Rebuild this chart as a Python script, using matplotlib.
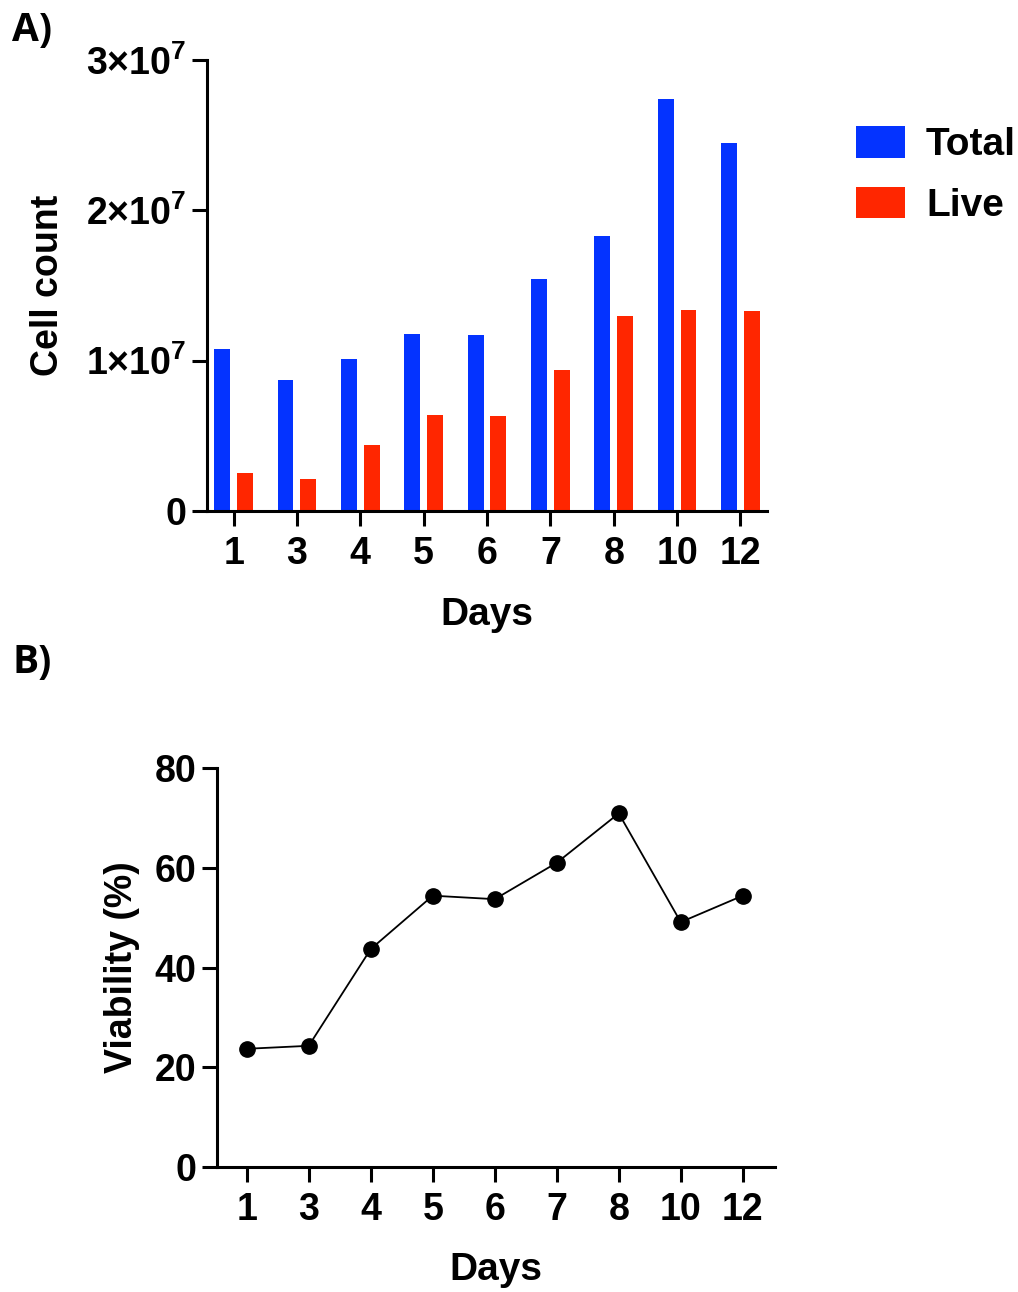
import matplotlib
matplotlib.use("Agg")
import matplotlib.pyplot as plt
import numpy as np
from matplotlib.patches import Patch

plt.rcParams['font.family'] = ['Liberation Sans', 'DejaVu Sans']
plt.rcParams['font.weight'] = 'bold'
plt.rcParams['mathtext.fontset'] = 'custom'
plt.rcParams['mathtext.rm'] = 'Liberation Sans:bold'
plt.rcParams['mathtext.bf'] = 'Liberation Sans:bold'
plt.rcParams['mathtext.it'] = 'Liberation Sans:bold'

days = ['1', '3', '4', '5', '6', '7', '8', '10', '12']
total = [1.08e7, 0.87e7, 1.01e7, 1.18e7, 1.17e7, 1.54e7, 1.83e7, 2.74e7, 2.45e7]
live = [0.25e7, 0.21e7, 0.44e7, 0.64e7, 0.63e7, 0.94e7, 1.30e7, 1.34e7, 1.33e7]
viability = [23.7, 24.3, 43.7, 54.4, 53.7, 61.0, 70.9, 49.1, 54.4]
count_ticks = [0, 1e7, 2e7, 3e7]
count_labels = ['0', r'$\mathbf{1{\times}10^{7}}$', r'$\mathbf{2{\times}10^{7}}$', r'$\mathbf{3{\times}10^{7}}$']
viab_ticks = [0, 20, 40, 60, 80]

blue = '#0433FF'
red = '#FF2600'

W, H = 1018, 1292
fig = plt.figure(figsize=(W / 100, H / 100), dpi=100)

def px_axes(l, t, r, b):
    return fig.add_axes([l / W, 1 - b / H, (r - l) / W, (b - t) / H])

def style(ax):
    for s in ['top', 'right']:
        ax.spines[s].set_visible(False)
    for s in ['left', 'bottom']:
        ax.spines[s].set_linewidth(2.2)
    ax.tick_params(axis='both', width=2.2, length=11, labelsize=27, pad=4)
    ax.tick_params(axis='x', pad=7)

# Panel A
axA = px_axes(207, 60, 767, 511)
x = np.arange(len(days))
bw = 0.25
axA.bar(x - 0.18, total, width=bw, color=blue, label='Total')
axA.bar(x + 0.18, live, width=bw, color=red, label='Live')
axA.set_xlim(-0.42, len(days) - 1 + 0.42)
axA.set_ylim(0, 3e7)
axA.set_xticks(x)
axA.set_xticklabels(days)
axA.set_yticks(count_ticks)
axA.set_yticklabels(count_labels)
style(axA)
axA.set_xlabel('Days', fontsize=28, fontweight='bold', va='center')
axA.xaxis.set_label_coords(0.5, -0.231)
axA.set_ylabel('Cell count', fontsize=27, fontweight='bold', va='center')
axA.yaxis.set_label_coords(-0.284, 0.5)

handles = [Patch(facecolor=blue, edgecolor='none'), Patch(facecolor=red, edgecolor='none')]
fig.legend(handles, ['Total', 'Live'], loc='upper left',
           bbox_to_anchor=(856 / W, 1 - 126 / H), frameon=False,
           handlelength=1.25, handleheight=0.88,
           handletextpad=0.55, labelspacing=0.6, borderpad=0,
           borderaxespad=0, prop={'weight': 'bold', 'size': 28})

# Panel B
axB = px_axes(217, 768, 775, 1167)
axB.plot(x, viability, color='black', lw=1.3, marker='o', markersize=11,
         markerfacecolor='black', markeredgecolor='black')
axB.set_xlim(-0.48, len(days) - 1 + 0.52)
axB.set_ylim(0, 80)
axB.set_xticks(x)
axB.set_xticklabels(days)
axB.set_yticks(viab_ticks)
style(axB)
axB.set_xlabel('Days', fontsize=28, fontweight='bold', va='center')
axB.xaxis.set_label_coords(0.5, -0.258)
axB.set_ylabel('Viability (%)', fontsize=27, fontweight='bold', va='center')
axB.yaxis.set_label_coords(-0.17, 0.5)

fig.text(12 / W, 1 - 30 / H, 'A)', fontsize=28, fontweight='bold',
         family=['Open Sans', 'DejaVu Sans'], va='center', ha='left')
fig.text(12 / W, 1 - 663 / H, 'B)', fontsize=28, fontweight='bold',
         family=['Open Sans', 'DejaVu Sans'], va='center', ha='left')

fig.savefig('out.png', dpi=100)
